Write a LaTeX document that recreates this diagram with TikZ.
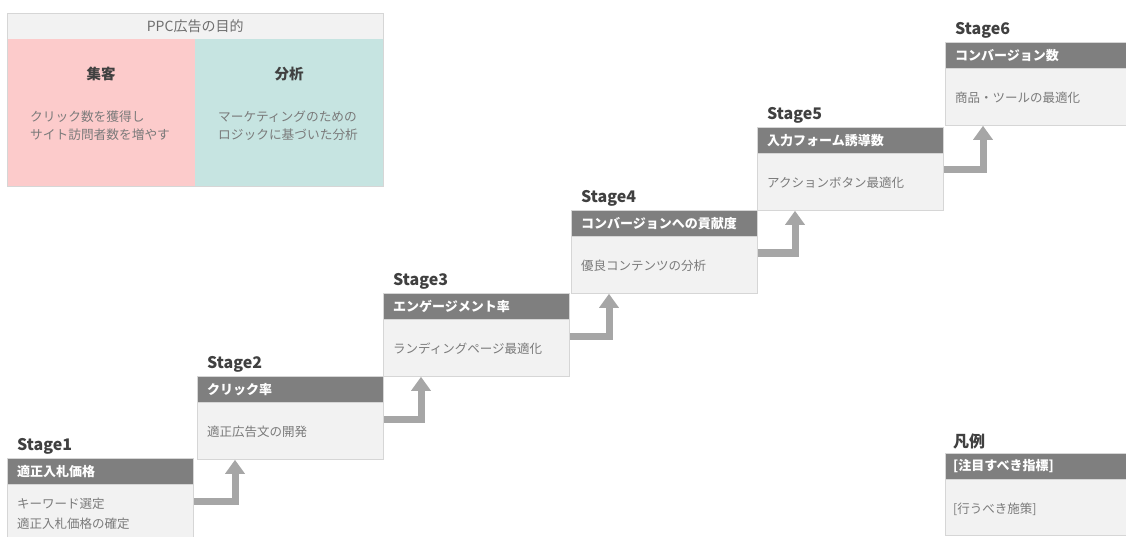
\documentclass[tikz,border=0pt]{standalone}
\usepackage{fontspec}
\setmainfont{Noto Sans CJK JP}
\usetikzlibrary{arrows.meta,calc}
\definecolor{hdrgray}{HTML}{7F7F7F}
\definecolor{bodygray}{HTML}{F2F2F2}
\definecolor{edgegray}{HTML}{D6D6D6}
\definecolor{arrgray}{HTML}{A6A6A6}
\definecolor{lblgray}{HTML}{404040}
\definecolor{txtgray}{HTML}{7A7A7A}
\definecolor{pinkbg}{HTML}{FCCBCB}
\definecolor{tealbg}{HTML}{C6E4E1}
\tikzset{
 hdrbox/.style={fill=hdrgray, draw=edgegray, line width=0.8pt, minimum width=186pt, minimum height=26pt, inner sep=0pt, anchor=north west},
 bodybox/.style={fill=bodygray, draw=edgegray, line width=0.8pt, minimum width=186pt, minimum height=57pt, inner sep=0pt, anchor=north west},
 stagelbl/.style={anchor=west, inner sep=0pt, text=lblgray, font=\fontsize{16}{18}\selectfont\bfseries},
 hdrtxt/.style={anchor=west, inner sep=0pt, text=white, font=\fontsize{13}{15}\selectfont\bfseries},
 bodytxt/.style={anchor=west, inner sep=0pt, text=txtgray, align=left, font=\fontsize{12.5}{20}\selectfont},
 toptxt/.style={anchor=west, inner sep=0pt, text=txtgray, align=left, font=\fontsize{12.7}{18}\selectfont},
 topttl/.style={inner sep=0pt, text=lblgray, font=\fontsize{14.5}{16}\selectfont\bfseries},
 steparrow/.style={draw=arrgray, line width=7pt, line join=miter, -{Triangle[width=19pt,length=14pt]}},
}
\newcommand\mystage[6]{%
  \node[hdrbox] (h#1) at (#2,#3) {};
  \node[bodybox] (b#1) at (#2,{#3+26}) {};
  \node[stagelbl] (l#1) at ($(h#1.north west)+(10,-12)$) {#4};
  \node[hdrtxt] (ht#1) at ($(h#1.west)+(10,0)$) {#5};
  \node[bodytxt] (bt#1) at ($(b#1.north west)+(10,30)$) {#6};
}
\begin{document}
\begin{tikzpicture}[x=1pt,y=-1pt]
\useasboundingbox (0,0) rectangle (1126,537);
\clip (0,0) rectangle (1126,537);
% top-left purpose box
\node[draw=edgegray, fill=bodygray, minimum width=376pt, minimum height=26pt, anchor=north west, inner sep=0pt, text=txtgray!90!black, font=\fontsize{14}{16}\selectfont] (ttl) at (7,13) {PPC広告の目的};
\node[fill=pinkbg, minimum width=188pt, minimum height=147pt, anchor=north west, inner sep=0pt] (pink) at (7,39) {};
\node[fill=tealbg, minimum width=188pt, minimum height=147pt, anchor=north west, inner sep=0pt] (teal) at (195,39) {};
\draw[edgegray, line width=0.8pt] (ttl.north west) rectangle (teal.south east);
\node[topttl] (pt) at (101,74) {集客};
\node[topttl] (tt) at (289,74) {分析};
\node[toptxt] (pb) at (30,126) {クリック数を獲得し\\サイト訪問者数を増やす};
\node[toptxt] (tb) at (218,126) {マーケティングのための\\ロジックに基づいた分析};
% stages
\mystage{1}{7}{458}{Stage1}{適正入札価格}{キーワード選定\\適正入札価格の確定}
\mystage{2}{197}{376}{Stage2}{クリック率}{適正広告文の開発}
\mystage{3}{383}{293}{Stage3}{エンゲージメント率}{ランディングページ最適化}
\mystage{4}{571}{210}{Stage4}{コンバージョンへの貢献度}{優良コンテンツの分析}
\mystage{5}{757}{127}{Stage5}{入力フォーム誘導数}{アクションボタン最適化}
\mystage{6}{945}{42}{Stage6}{コンバージョン数}{商品・ツールの最適化}
% arrows
\draw[steparrow] ($(b1.north east)+(0,17)$) -| ($(b2.south west)+(38,0)$);
\draw[steparrow] ($(b2.north east)+(0,17)$) -| ($(b3.south west)+(38,0)$);
\draw[steparrow] ($(b3.north east)+(0,17)$) -| ($(b4.south west)+(38,0)$);
\draw[steparrow] ($(b4.north east)+(0,17)$) -| ($(b5.south west)+(38,0)$);
\draw[steparrow] ($(b5.north east)+(0,17)$) -| ($(b6.south west)+(38,0)$);
% legend
\node[hdrbox] (hl) at (945,453) {};
\node[bodybox, minimum height=56pt] (bl) at (945,479) {};
\node[stagelbl] (ll) at ($(hl.north west)+(8,-12)$) {凡例};
\node[hdrtxt] (htl) at ($(hl.west)+(8,0)$) {[注目すべき指標]};
\node[bodytxt] (btl) at ($(bl.north west)+(8,30)$) {[行うべき施策]};
\end{tikzpicture}
\end{document}
